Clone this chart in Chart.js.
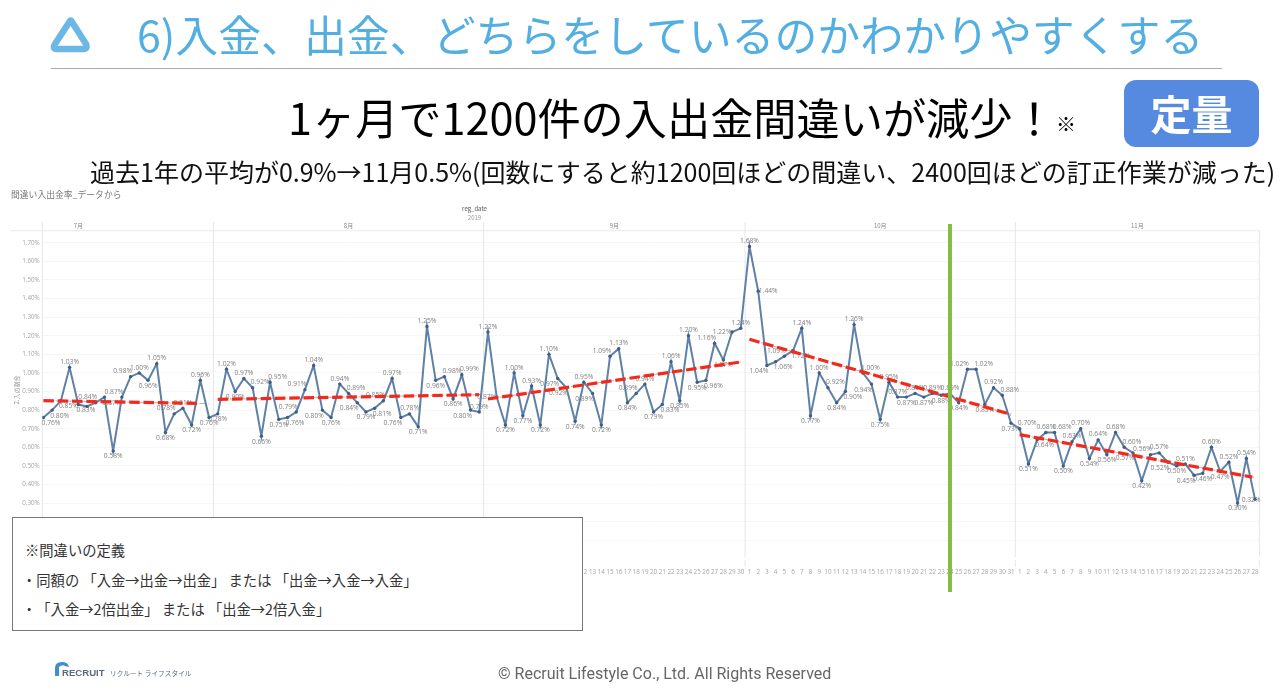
<!DOCTYPE html>
<html lang="ja">
<head>
<meta charset="utf-8">
<title>間違い入出金率</title>
<script src="https://cdn.jsdelivr.net/npm/chart.js@4"></script>
<style>
    html, body { margin: 0; padding: 0; background: #fff; }
    body { width: 1280px; height: 696px; position: relative; overflow: hidden; font-family: "Noto Sans CJK JP", "Noto Sans", sans-serif; }
    .abs { position: absolute; white-space: nowrap; line-height: 1; }
    #chart { position: absolute; left: 0; top: 0; filter: blur(0.45px); }
    #logo { position: absolute; left: 50px; top: 16px; }
    #rule { position: absolute; left: 51px; top: 67.5px; width: 1171px; height: 1.5px; background: #aaa; }
    #heading { left: 137px; top: 12px; font-size: 42.9px; color: #53afe2; }
    #headline { left: 288px; top: 95px; font-size: 43.2px; color: #000; }
    #mark { left: 1056px; top: 114px; font-size: 20px; color: #000; }
    #badge { position: absolute; left: 1124px; top: 80px; width: 135px; height: 67px; background: #568ae0; border-radius: 12px; color: #fff; font-size: 41px; font-weight: 700; text-align: center; line-height: 65px; }
    #detail { left: 90px; top: 159px; font-size: 25px; color: #111; }
    #sheet { left: 11px; top: 191px; font-size: 8.8px; color: #777; }
    #box { position: absolute; left: 12px; top: 517px; width: 569px; height: 112px; background: #fff; border: 1.2px solid #777; font-size: 14.3px; color: #333; text-spacing-trim: space-all; }
    #box div { position: absolute; left: 12px; white-space: nowrap; line-height: 1; }
    #copy { left: 498px; top: 666px; font-size: 16px; color: #666; font-family: Roboto, sans-serif; }
    #brand { position: absolute; left: 54px; top: 661px; }
</style>
</head>
<body>
<canvas id="chart" width="1280" height="696"></canvas>

<svg id="logo" width="42" height="38" viewBox="0 0 42 38">
    <path d="M20 5 Q21 4 22 6 L36 28 Q38 33 33 33 L7 33 Q2 33 5 28 Z" fill="none" stroke="#6bb8e6" stroke-width="6.5" stroke-linejoin="round"/>
</svg>
<div class="abs" id="heading">6)入金、出金、どちらをしているのかわかりやすくする</div>
<div id="rule"></div>
<div class="abs" id="headline">1ヶ月で1200件の入出金間違いが減少！</div>
<div class="abs" id="mark">※</div>
<div id="badge">定量</div>
<div class="abs" id="detail">過去1年の平均が0.9%→11月0.5%(回数にすると約1200回ほどの間違い、2400回ほどの訂正作業が減った)</div>
<div class="abs" id="sheet">間違い入出金率_データから</div>

<div id="box">
    <div style="top:25px">※間違いの定義</div>
    <div style="top:55px;left:9px">・同額の 「入金→出金→出金」 または 「出金→入金→入金」</div>
    <div style="top:84px;left:9px">・「入金→2倍出金」 または 「出金→2倍入金」</div>
</div>

<div class="abs" id="copy">© Recruit Lifestyle Co., Ltd. All Rights Reserved</div>
<svg id="brand" width="140" height="20" viewBox="0 0 140 20">
    <path d="M1 15 L1 7 Q1 1 8 1 Q14 1 15 6 L11 5 Q8 3 5 6 L5 15 Z" fill="#3f8fd0"/>
    <text x="8" y="15" font-family="Liberation Sans" font-weight="700" font-size="9.6" fill="#5a6b80">RECRUIT</text>
    <text x="56" y="15" font-family="Noto Sans CJK JP" font-size="6.7" fill="#5a6b80">リクルート ライフスタイル</text>
</svg>

<script>
// 月ごとの日付
const dayJul = [12, 13, 14, 15, 16, 17, 18, 19, 20, 21, 22, 23, 24, 25, 26, 27, 28, 29, 30, 31];
const dayAug = [1, 2, 3, 4, 5, 6, 7, 8, 9, 10, 11, 12, 13, 14, 15, 16, 17, 18, 19, 20, 21, 22, 23, 24, 25, 26, 27, 28, 29, 30, 31];
const daySep = [1, 2, 3, 4, 5, 6, 7, 8, 9, 10, 11, 12, 13, 14, 15, 16, 17, 18, 19, 20, 21, 22, 23, 24, 25, 26, 27, 28, 29, 30];
const dayOct = [1, 2, 3, 4, 5, 6, 7, 8, 9, 10, 11, 12, 13, 14, 15, 16, 17, 18, 19, 20, 21, 22, 23, 24, 25, 26, 27, 28, 29, 30, 31];
const dayNov = [1, 2, 3, 4, 5, 6, 7, 8, 9, 10, 11, 12, 13, 14, 15, 16, 17, 18, 19, 20, 21, 22, 23, 24, 25, 26, 27, 28];

// 間違い入出金率 (%)
const rateJul = [0.76, 0.80, 0.85, 1.03, 0.83, 0.82, 0.84, 0.87, 0.58, 0.87, 0.98, 1.00, 0.96, 1.05, 0.68, 0.78, 0.81, 0.72, 0.96, 0.76];
const rateAug = [0.78, 1.02, 0.90, 0.97, 0.92, 0.66, 0.95, 0.75, 0.76, 0.79, 0.91, 1.04, 0.80, 0.76, 0.94, 0.89, 0.84, 0.79, 0.81, 0.85, 0.97, 0.76, 0.78, 0.71, 1.25, 0.96, 0.98, 0.86, 0.99, 0.80, 0.79];
const rateSep = [1.22, 0.87, 0.72, 1.00, 0.77, 0.93, 0.72, 1.10, 0.97, 0.92, 0.74, 0.95, 0.89, 0.72, 1.09, 1.13, 0.84, 0.89, 0.94, 0.79, 0.83, 1.06, 0.85, 1.20, 0.95, 0.96, 1.16, 1.07, 1.22, 1.24];
const rateOct = [1.68, 1.44, 1.04, 1.06, 1.09, 1.12, 1.24, 0.77, 1.00, 0.92, 0.84, 0.90, 1.26, 1.00, 0.94, 0.75, 0.95, 0.87, 0.87, 0.89, 0.87, 0.89, 0.88, 0.89, 0.84, 1.02, 1.02, 0.83, 0.92, 0.88, 0.73];
const rateNov = [0.70, 0.51, 0.64, 0.68, 0.68, 0.50, 0.63, 0.70, 0.54, 0.64, 0.56, 0.68, 0.60, 0.57, 0.42, 0.56, 0.57, 0.52, 0.50, 0.51, 0.45, 0.46, 0.60, 0.47, 0.52, 0.30, 0.54, 0.32];

// 傾向線の両端 (%)
const trendJul = [0.851, 0.835];
const trendAug = [0.858, 0.883];
const trendSep = [0.860, 1.059];
const trendOct = [1.181, 0.777];
const trendNov = [0.668, 0.437];

const monthLabels = ['7月', '8月', '9月', '10月', '11月'];
const yTickValues = [1.7, 1.6, 1.5, 1.4, 1.3, 1.2, 1.1, 1.0, 0.9, 0.8, 0.7, 0.6, 0.5, 0.4, 0.3, 0.2, 0.1];

// 10月24日の施策日
const releaseMonth = 3;
const releaseDay = 24;

// データラベルの位置 a:上 b:下 ar/al:右上/左上 br/bl:右下/左下 r/l:横 c:点の上 空:なし
const placeJul = ['br', 'br', 'br', 'a', 'br', '', 'al', 'br', 'b', 'al', 'al', 'a', 'b', 'a', 'b', 'al', 'a', 'b', 'a', 'b'];
const placeAug = ['b', 'a', 'b', 'a', 'ar', 'b', 'ar', 'b', 'br', 'al', 'al', 'a', 'bl', 'b', 'a', 'ar', 'bl', 'b', 'br', 'al', 'a', 'bl', 'a', 'b', 'a', 'b', 'ar', 'b', 'ar', 'bl', 'a'];
const placeSep = ['a', 'l', 'b', 'a', 'b', 'a', 'b', 'a', 'bl', 'bl', 'b', 'a', 'bl', 'b', 'al', 'a', 'b', 'al', 'a', 'b', 'br', 'a', 'b', 'a', 'b', 'br', 'al', 'b', 'l', 'a'];
const placeOct = ['a', 'r', 'bl', 'br', 'al', 'br', 'a', 'b', 'a', 'ar', 'b', 'br', 'a', 'ar', 'bl', 'b', 'a', 'a', 'b', 'a', 'b', 'a', 'b', 'a', 'b', 'al', 'ar', 'b', 'a', 'ar', 'b'];
const placeNov = ['ar', 'b', 'br', 'a', 'ar', 'b', 'a', 'a', 'b', 'a', 'b', 'a', 'ar', 'bl', 'b', 'al', 'a', 'bl', 'b', 'a', 'bl', 'b', 'a', 'b', 'a', 'b', 'a', 'c'];

const placeOffset = {
    a: [0, -5.3], b: [0, 5.5],
    ar: [7.5, -5.3], al: [-8, -5.3],
    br: [7.5, 5.5], bl: [-8, 5.5],
    r: [10, 0], l: [-10, 0],
    c: [-4, 0.5]
};

const months = [
    { days: dayJul, rates: rateJul, trend: trendJul, places: placeJul, redEnd: 18 },
    { days: dayAug, rates: rateAug, trend: trendAug, places: placeAug, redEnd: 30 },
    { days: daySep, rates: rateSep, trend: trendSep, places: placeSep, redEnd: 29 },
    { days: dayOct, rates: rateOct, trend: trendOct, places: placeOct, redEnd: 30 },
    { days: dayNov, rates: rateNov, trend: trendNov, places: placeNov, redEnd: 26.7 }
];

// 全期間を通し番号に並べる
const dayLabels = [];
const seriesPoints = [];
const pointPlaces = [];
const monthStarts = [];
const grayTrends = [];
const redTrends = [];
months.forEach((m) => {
    const first = dayLabels.length;
    const last = first + m.days.length - 1;
    monthStarts.push(first);
    m.days.forEach((d, i) => {
        dayLabels.push(d);
        seriesPoints.push({ x: first + i, y: m.rates[i] });
        pointPlaces.push(m.places[i]);
    });
    grayTrends.push([{ x: first, y: m.trend[0] }, { x: last, y: m.trend[1] }]);
    const slope = (m.trend[1] - m.trend[0]) / (last - first);
    redTrends.push([{ x: first, y: m.trend[0] }, { x: first + m.redEnd, y: m.trend[0] + slope * m.redEnd }]);
});

const grayDatasets = grayTrends.map((data) => ({
    data, borderColor: '#aaaaaa', borderWidth: 0.9, borderDash: [7, 2, 1, 2], pointRadius: 0, order: 3
}));
const redDatasets = redTrends.map((data) => ({
    data, borderColor: '#f32a1b', borderWidth: 3.2, borderDash: [10.5, 3.8], pointRadius: 0, order: 1
}));

// グリッド、月の区切り、データラベル、緑の縦線
const sheetPlugin = {
    id: 'sheet',
    beforeDatasetsDraw(chart) {
        const { ctx, chartArea, scales } = chart;
        const x = scales.x;
        const y = scales.y;
        ctx.save();

        ctx.strokeStyle = '#eeeeee';
        ctx.lineWidth = 1.2;
        ctx.beginPath();
        ctx.moveTo(10, chartArea.top);
        ctx.lineTo(chartArea.right, chartArea.top);
        ctx.stroke();

        ctx.strokeStyle = '#e6e6e6';
        ctx.lineWidth = 1;
        ctx.beginPath();
        monthStarts.forEach((start, i) => {
            const px = i === 0 ? x.left : x.getPixelForValue(start - 0.5);
            ctx.moveTo(px, 222);
            ctx.lineTo(px, chartArea.bottom);
            if (i > 0) {
                ctx.moveTo(px, chartArea.bottom + 3);
                ctx.lineTo(px, chartArea.bottom + 10);
            }
        });
        ctx.moveTo(chartArea.right, chartArea.top);
        ctx.lineTo(chartArea.right, chartArea.bottom);
        ctx.moveTo(chartArea.right, chartArea.bottom + 3);
        ctx.lineTo(chartArea.right, chartArea.bottom + 10);
        ctx.stroke();

        // ヘッダー
        ctx.textAlign = 'center';
        ctx.textBaseline = 'middle';
        ctx.font = '6px "Noto Sans CJK JP"';
        ctx.fillStyle = '#555';
        ctx.fillText('reg_date', 474.5, 208.5);
        ctx.fillStyle = '#999';
        ctx.fillText('2019', 474.5, 217.5);
        ctx.fillStyle = '#888';
        monthLabels.forEach((label, i) => {
            const start = monthStarts[i];
            const span = months[i].days.length;
            // 7月は途中からなので月全体の中央に置く
            const firstDay = months[i].days[0];
            const from = start - (firstDay - 1) - 0.5;
            const to = start + span - 0.5;
            ctx.fillText(label, x.getPixelForValue((from + to) / 2), 226);
        });

        ctx.save();
        ctx.translate(17, 390);
        ctx.rotate(-Math.PI / 2);
        ctx.fillStyle = '#888';
        ctx.fillText('2.入の割合', 0, 0);
        ctx.restore();

        // データラベル
        ctx.font = '6.7px "Open Sans"';
        ctx.fillStyle = '#808080';
        seriesPoints.forEach((p, i) => {
            const offset = placeOffset[pointPlaces[i]];
            if (!offset) return;
            ctx.fillText(p.y.toFixed(2) + '%', x.getPixelForValue(p.x) + offset[0], y.getPixelForValue(p.y) + offset[1]);
        });
        ctx.restore();
    },
    afterDatasetsDraw(chart) {
        const { ctx, scales } = chart;
        const index = monthStarts[releaseMonth] + releaseDay - 1;
        const px = scales.x.getPixelForValue(index);
        ctx.save();
        ctx.strokeStyle = '#83bd44';
        ctx.lineWidth = 4;
        ctx.beginPath();
        ctx.moveTo(px, 224);
        ctx.lineTo(px, 592);
        ctx.stroke();
        ctx.restore();
    }
};

new Chart(document.getElementById('chart'), {
    type: 'line',
    data: {
        datasets: [
            {
                data: seriesPoints,
                borderColor: '#5f80a7',
                borderWidth: 2,
                pointRadius: 1.7,
                pointBackgroundColor: '#3e5e85',
                pointBorderWidth: 0,
                tension: 0,
                order: 2
            },
            ...grayDatasets,
            ...redDatasets
        ]
    },
    options: {
        responsive: false,
        animation: false,
        devicePixelRatio: 1,
        layout: { padding: { left: 0, right: 20.6, top: 230.7, bottom: 0 } },
        plugins: { legend: { display: false }, tooltip: { enabled: false } },
        scales: {
            x: {
                type: 'linear',
                min: -0.13,
                max: 139.5,
                afterFit: (scale) => { scale.height = 139; },
                afterBuildTicks: (scale) => { scale.ticks = dayLabels.map((d, i) => ({ value: i })); },
                grid: { display: false },
                border: { display: false },
                ticks: {
                    autoSkip: false,
                    maxRotation: 0,
                    minRotation: 0,
                    padding: 3,
                    color: '#a5a5a5',
                    font: { family: 'Open Sans', size: 6.3 },
                    callback: (value) => dayLabels[value]
                }
            },
            y: {
                min: 0.01,
                max: 1.765,
                afterFit: (scale) => { scale.width = 42.3; },
                afterBuildTicks: (scale) => { scale.ticks = yTickValues.map((value) => ({ value })); },
                grid: { color: '#f6f6f6', lineWidth: 1, drawTicks: false },
                border: { display: false },
                ticks: {
                    padding: 2.5,
                    color: '#a5a5a5',
                    font: { family: 'Open Sans', size: 6.3 },
                    callback: (value) => value.toFixed(2) + '%'
                }
            }
        }
    },
    plugins: [sheetPlugin]
});
</script>
</body>
</html>
